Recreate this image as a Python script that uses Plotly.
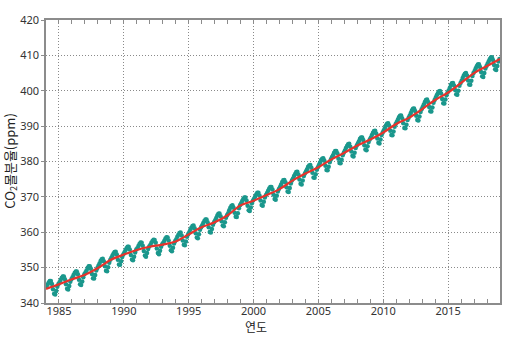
import plotly.graph_objects as go

# Monthly CO2 mole fraction (ppm), one row per year, Jan..Dec
years = list(range(1984, 2019))
co2_monthly = [
    [344.6, 345.2, 345.8, 346.2, 346.2, 345.4, 343.9, 342.6, 342.4, 343.4, 344.6, 345.4],  # 1984
    [345.9, 346.5, 347.1, 347.5, 347.5, 346.7, 345.3, 344.0, 343.8, 344.8, 346.0, 346.7],  # 1985
    [347.3, 347.9, 348.5, 348.9, 348.9, 348.1, 346.6, 345.3, 345.1, 346.1, 347.3, 348.1],  # 1986
    [348.6, 349.2, 349.9, 350.4, 350.4, 349.7, 348.2, 347.0, 346.9, 347.9, 349.2, 349.9],  # 1987
    [350.5, 351.2, 351.9, 352.4, 352.5, 351.8, 350.4, 349.1, 349.0, 350.1, 351.4, 352.2],  # 1988
    [352.8, 353.4, 354.0, 354.4, 354.5, 353.7, 352.2, 350.9, 350.8, 351.8, 353.0, 353.7],  # 1989
    [354.3, 354.9, 355.5, 355.9, 355.9, 355.1, 353.6, 352.3, 352.1, 353.1, 354.3, 355.1],  # 1990
    [355.5, 356.1, 356.7, 357.1, 357.0, 356.2, 354.7, 353.4, 353.1, 354.1, 355.3, 356.0],  # 1991
    [356.4, 357.0, 357.5, 357.9, 357.8, 357.0, 355.4, 354.1, 353.8, 354.8, 355.9, 356.6],  # 1992
    [357.0, 357.6, 358.2, 358.6, 358.5, 357.7, 356.2, 354.9, 354.6, 355.6, 356.8, 357.5],  # 1993
    [358.0, 358.7, 359.3, 359.8, 359.9, 359.1, 357.7, 356.5, 356.3, 357.4, 358.7, 359.4],  # 1994
    [360.0, 360.7, 361.3, 361.8, 361.9, 361.1, 359.7, 358.5, 358.3, 359.4, 360.7, 361.4],  # 1995
    [362.0, 362.6, 363.2, 363.6, 363.6, 362.8, 361.4, 360.1, 359.9, 360.9, 362.1, 362.8],  # 1996
    [363.4, 364.0, 364.7, 365.2, 365.3, 364.5, 363.1, 361.9, 361.7, 362.8, 364.1, 364.8],  # 1997
    [365.4, 366.2, 366.9, 367.4, 367.6, 366.9, 365.5, 364.4, 364.3, 365.4, 366.8, 367.6],  # 1998
    [368.2, 368.8, 369.4, 369.8, 369.8, 369.0, 367.5, 366.2, 366.0, 367.0, 368.2, 369.0],  # 1999
    [369.5, 370.1, 370.7, 371.2, 371.2, 370.4, 369.0, 367.7, 367.5, 368.6, 369.8, 370.5],  # 2000
    [371.1, 371.7, 372.4, 372.8, 372.8, 372.1, 370.6, 369.4, 369.2, 370.3, 371.5, 372.2],  # 2001
    [372.8, 373.5, 374.2, 374.7, 374.8, 374.1, 372.7, 371.5, 371.4, 372.5, 373.8, 374.6],  # 2002
    [375.2, 375.9, 376.5, 377.0, 377.1, 376.3, 374.9, 373.7, 373.5, 374.6, 375.9, 376.6],  # 2003
    [377.2, 377.8, 378.5, 378.9, 379.0, 378.2, 376.8, 375.5, 375.4, 376.4, 377.7, 378.4],  # 2004
    [379.0, 379.7, 380.4, 380.8, 380.9, 380.2, 378.8, 377.6, 377.5, 378.5, 379.8, 380.6],  # 2005
    [381.2, 381.8, 382.5, 383.0, 383.0, 382.3, 380.8, 379.6, 379.5, 380.5, 381.8, 382.5],  # 2006
    [383.1, 383.8, 384.4, 384.9, 385.0, 384.2, 382.8, 381.6, 381.4, 382.5, 383.8, 384.5],  # 2007
    [385.1, 385.7, 386.4, 386.8, 386.8, 386.1, 384.6, 383.4, 383.2, 384.3, 385.5, 386.2],  # 2008
    [386.8, 387.5, 388.1, 388.6, 388.7, 387.9, 386.5, 385.3, 385.1, 386.2, 387.5, 388.2],  # 2009
    [388.8, 389.5, 390.2, 390.7, 390.8, 390.1, 388.7, 387.5, 387.4, 388.5, 389.8, 390.6],  # 2010
    [391.2, 391.8, 392.5, 392.9, 393.0, 392.2, 390.8, 389.5, 389.4, 390.4, 391.7, 392.4],  # 2011
    [393.0, 393.7, 394.4, 394.9, 395.0, 394.3, 392.9, 391.7, 391.6, 392.7, 394.0, 394.8],  # 2012
    [395.4, 396.1, 396.8, 397.4, 397.5, 396.8, 395.4, 394.2, 394.1, 395.3, 396.6, 397.4],  # 2013
    [398.0, 398.7, 399.3, 399.8, 399.9, 399.2, 397.7, 396.5, 396.4, 397.5, 398.7, 399.5],  # 2014
    [400.1, 400.8, 401.6, 402.1, 402.2, 401.5, 400.2, 399.0, 398.9, 400.0, 401.4, 402.2],  # 2015
    [402.8, 403.6, 404.3, 404.8, 405.0, 404.3, 402.9, 401.8, 401.7, 402.8, 404.2, 405.0],  # 2016
    [405.6, 406.3, 406.9, 407.4, 407.5, 406.7, 405.3, 404.1, 403.9, 405.0, 406.3, 407.0],  # 2017
    [407.6, 408.3, 408.9, 409.4, 409.5, 408.7, 407.3, 406.1, 405.9, 407.0, 408.3, 409.0],  # 2018
]

# Deseasonalised trend at the start of each year (ppm)
trend_years = list(range(1984, 2020))
co2_trend = [
    344.0, 345.3, 346.7, 348.0, 349.9, 352.2, 353.7, 355.0, 355.9, 356.5,
    357.4, 359.4, 361.4, 362.8, 364.8, 367.6, 368.9, 370.5, 372.2, 374.6,
    376.6, 378.4, 380.6, 382.5, 384.5, 386.2, 388.2, 390.6, 392.4, 394.8,
    397.4, 399.5, 402.2, 405.0, 407.0, 409.0,
]

x_tick_years = [1985, 1990, 1995, 2000, 2005, 2010, 2015]

# Decimal-year position of each monthly value (mid-month)
x_month, y_month = [], []
for yr, row in zip(years, co2_monthly):
    for m, v in enumerate(row):
        x_month.append(yr + (m + 0.5) / 12)
        y_month.append(v)

TEAL = "#1a978c"
RED = "#e8322b"
FRAME = "#8c8c8c"
GRID = "#8a8a8a"
GRID_DASH = "1px,2px"
TICK_FONT = dict(family="Noto Sans, Open Sans, sans-serif", size=11, color="#333333")
KR_FONT = "Noto Sans CJK KR, Noto Sans, sans-serif"

fig = go.Figure()
fig.add_trace(go.Scatter(
    x=x_month, y=y_month, mode="markers",
    marker=dict(size=4.5, color=TEAL, line=dict(width=0)),
    showlegend=False, hoverinfo="x+y",
))
fig.add_trace(go.Scatter(
    x=trend_years, y=co2_trend, mode="lines",
    line=dict(color=RED, width=2.2, shape="spline", smoothing=1.0),
    showlegend=False, hoverinfo="x+y",
))

fig.update_layout(
    width=514, height=337,
    margin=dict(l=46, r=12, t=12, b=34),
    paper_bgcolor="white", plot_bgcolor="white",
    xaxis=dict(
        range=[1984, 2019], tickmode="array", tickvals=x_tick_years,
        ticktext=[str(v) for v in x_tick_years],
        showgrid=True, gridcolor=GRID, griddash=GRID_DASH, gridwidth=1,
        zeroline=False, showline=True, linecolor=FRAME, linewidth=1.5,
        mirror="ticks", ticks="inside", ticklen=4, tickcolor=FRAME, tickwidth=1,
        minor=dict(tickmode="linear", tick0=1984, dtick=1, ticks="inside",
                   ticklen=4, tickcolor=FRAME, showgrid=False),
        tickfont=TICK_FONT, ticklabelstandoff=-3,
    ),
    yaxis=dict(
        range=[340, 420], tickmode="linear", tick0=340, dtick=10,
        showgrid=True, gridcolor=GRID, griddash=GRID_DASH, gridwidth=1,
        zeroline=False, showline=True, linecolor=FRAME, linewidth=1.5,
        mirror=True, ticks="outside", ticklen=3, tickcolor=FRAME,
        tickfont=TICK_FONT,
    ),
    annotations=[
        dict(text="CO<sub>2</sub>몰분율(ppm)", xref="paper", yref="paper",
             x=-0.079, y=0.5, textangle=-90, showarrow=False,
             xanchor="center", yanchor="middle",
             font=dict(family=KR_FONT, size=13, color="#222222")),
        dict(text="연도", xref="paper", yref="paper",
             x=0.463, y=-0.082, showarrow=False,
             xanchor="center", yanchor="middle",
             font=dict(family=KR_FONT, size=12, color="#222222")),
    ],
)

fig.write_html("out.html")
